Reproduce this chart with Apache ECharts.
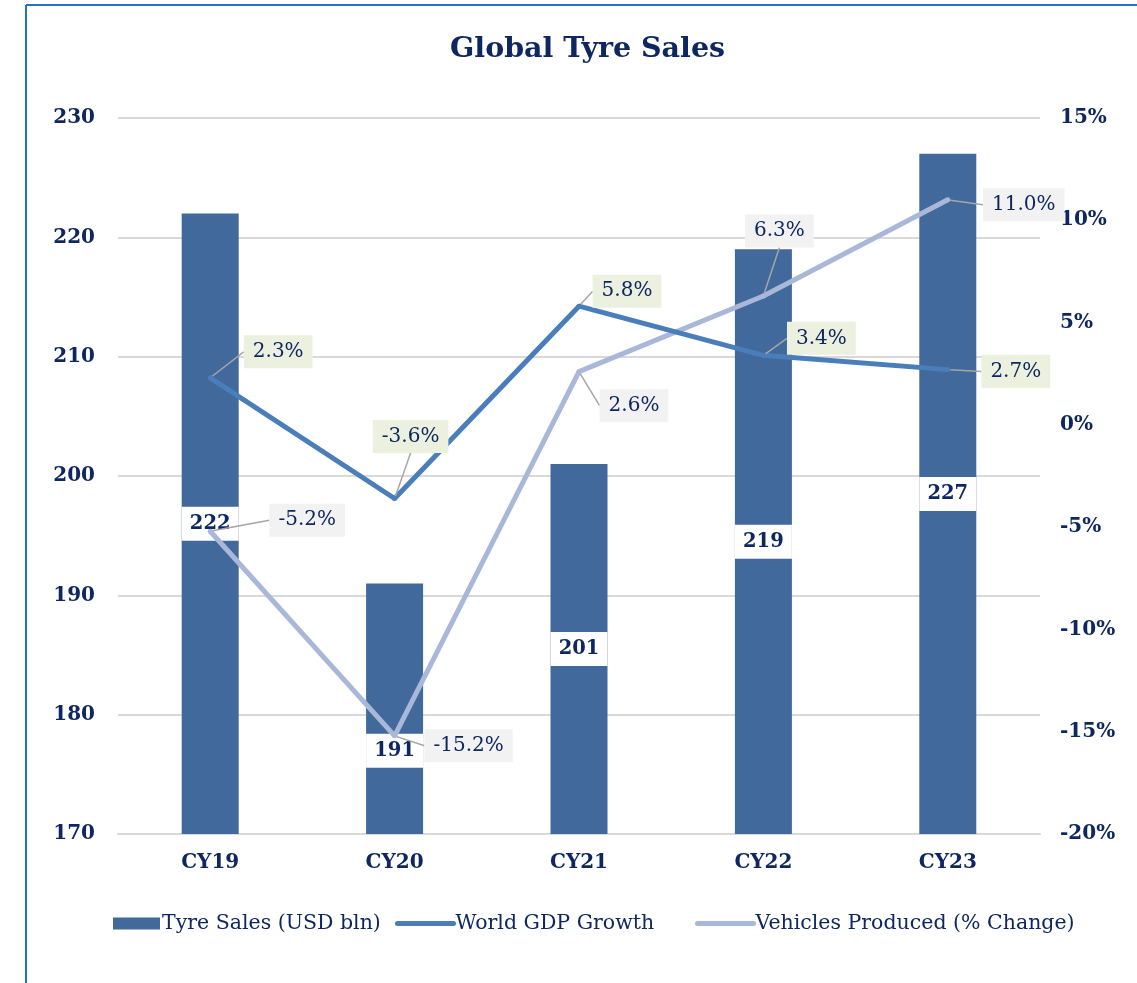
<!DOCTYPE html>
<html>
<head>
<meta charset="utf-8">
<script src="https://cdn.jsdelivr.net/npm/echarts@6/dist/echarts.min.js"></script>
<style>
  html, body { margin: 0; padding: 0; background: #fff; }
  #main { width: 1137px; height: 983px; }
</style>
</head>
<body>
<div id="main"></div>
<script>
// data
var years = ['CY19', 'CY20', 'CY21', 'CY22', 'CY23'];
var tyreSales = [222, 191, 201, 219, 227];
var gdpGrowth = [2.3, -3.6, 5.8, 3.4, 2.7];
var vehiclesProduced = [-5.2, -15.2, 2.6, 6.3, 11.0];
var salesTicks = [170, 180, 190, 200, 210, 220, 230];
var pctTicks = [-20, -15, -10, -5, 0, 5, 10, 15];

// where the callout boxes sit, relative to their point
var gdpLabelShift = [[68, -26], [16, -62], [48, -15], [58, -17], [68, 2]];
var vehLabelShift = [[97, -11], [74, 10], [55, 34], [16, -65], [76, 5]];

var navy = '#0f2760';
var serif = '"DejaVu Serif", "Liberation Serif", serif';

var chart = echarts.init(document.getElementById('main'));

var barData = tyreSales.map(function (v, i) {
  // CY20 label was pushed down in the original
  if (i === 1) return { value: v, label: { offset: [0, 42] } };
  return v;
});

function calloutLabel(bg) {
  return {
    show: true,
    position: 'inside',
    formatter: function (p) { return p.value.toFixed(1) + '%'; },
    fontFamily: serif,
    fontSize: 20,
    color: navy,
    backgroundColor: bg,
    padding: [7, 9, 6, 9]
  };
}

var legendText = { fontFamily: serif, fontSize: 20.5, color: navy, padding: [0, 0, 0, -3] };

function legendFor(name, left, lineLike) {
  var item = { name: name };
  if (lineLike) {
    item.itemStyle = { color: 'rgba(0,0,0,0)', borderWidth: 0 };
    item.lineStyle = { width: 5, cap: 'round' };
  } else {
    item.icon = 'rect';
  }
  return {
    left: left,
    top: 908,
    itemWidth: lineLike ? 56 : 47,
    itemHeight: 12,
    textStyle: legendText,
    data: [item]
  };
}

var option = {
  animation: false,
  backgroundColor: '#fff',
  title: {
    text: 'Global Tyre Sales',
    left: 445,
    top: 30,
    textStyle: { fontFamily: serif, fontSize: 28.5, fontWeight: 'bold', color: navy }
  },
  graphic: [
    { type: 'line', shape: { x1: 26, y1: 5, x2: 1137, y2: 5 }, style: { stroke: '#1f74c6', lineWidth: 2 } },
    { type: 'line', shape: { x1: 26, y1: 5, x2: 26, y2: 983 }, style: { stroke: '#1f74c6', lineWidth: 2 } }
  ],
  grid: { left: 118, right: 97, top: 118, bottom: 149 },
  legend: [
    legendFor('Tyre Sales (USD bln)', 108, false),
    legendFor('World GDP Growth', 390, true),
    legendFor('Vehicles Produced (% Change)', 690, true)
  ],
  xAxis: {
    type: 'category',
    data: years,
    axisLine: { onZero: false, lineStyle: { color: '#d9d9d9', width: 2 } },
    axisTick: { show: false },
    axisLabel: { fontFamily: serif, fontSize: 20, fontWeight: 'bold', color: navy, margin: 19 }
  },
  yAxis: [
    {
      type: 'value',
      min: salesTicks[0],
      max: salesTicks[salesTicks.length - 1],
      interval: salesTicks[1] - salesTicks[0],
      axisLine: { show: false },
      axisTick: { show: false },
      splitLine: { lineStyle: { color: '#d9d9d9', width: 2 } },
      axisLabel: { fontFamily: serif, fontSize: 20, fontWeight: 'bold', color: navy, margin: 23 }
    },
    {
      type: 'value',
      min: pctTicks[0],
      max: pctTicks[pctTicks.length - 1],
      interval: pctTicks[1] - pctTicks[0],
      axisLine: { show: false },
      axisTick: { show: false },
      splitLine: { show: false },
      axisLabel: { fontFamily: serif, fontSize: 20, fontWeight: 'bold', color: navy, margin: 20, formatter: '{value}%' }
    }
  ],
  series: [
    {
      name: 'Tyre Sales (USD bln)',
      type: 'bar',
      data: barData,
      barWidth: 57,
      itemStyle: { color: '#41699b' },
      label: {
        show: true,
        position: 'inside',
        fontFamily: serif,
        fontSize: 19.5,
        fontWeight: 'bold',
        color: navy,
        backgroundColor: '#fff',
        width: 57,
        align: 'center',
        padding: [8, 0, 6, 0]
      },
      z: 1
    },
    {
      name: 'World GDP Growth',
      type: 'line',
      yAxisIndex: 1,
      data: gdpGrowth,
      symbol: 'circle',
      symbolSize: 5,
      itemStyle: { color: '#4a7ebb' },
      lineStyle: { color: '#4a7ebb', width: 5 },
      label: calloutLabel('#ebf1de'),
      labelLine: { show: true, lineStyle: { color: '#a6a6a6', width: 1.5 } },
      labelLayout: function (p) {
        var s = gdpLabelShift[p.dataIndex];
        return { dx: s[0], dy: s[1] };
      },
      z: 3
    },
    {
      name: 'Vehicles Produced (% Change)',
      type: 'line',
      yAxisIndex: 1,
      data: vehiclesProduced,
      symbol: 'circle',
      symbolSize: 5,
      itemStyle: { color: '#a9b8d9' },
      lineStyle: { color: '#a9b8d9', width: 5 },
      label: calloutLabel('#f2f2f2'),
      labelLine: { show: true, lineStyle: { color: '#a6a6a6', width: 1.5 } },
      labelLayout: function (p) {
        var s = vehLabelShift[p.dataIndex];
        return { dx: s[0], dy: s[1] };
      },
      z: 2
    }
  ]
};

chart.setOption(option);
</script>
</body>
</html>
